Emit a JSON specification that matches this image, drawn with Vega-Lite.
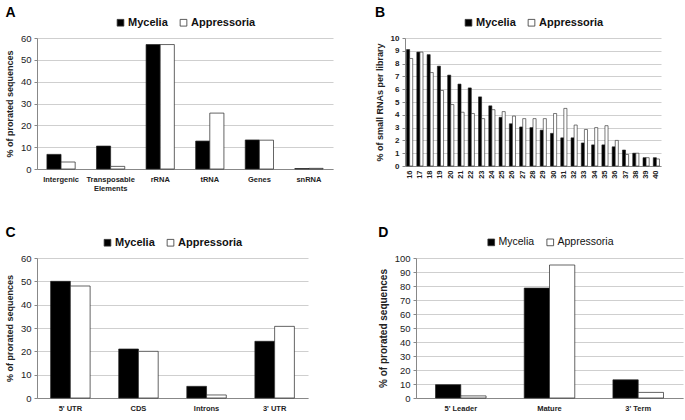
{
  "$schema": "https://vega.github.io/schema/vega-lite/v6.json",
  "background": "white",
  "padding": {"left": 5, "top": 6, "right": 5, "bottom": 2},
  "config": {
    "font": "Liberation Sans",
    "view": {"stroke": null},
    "title": {"fontSize": 14, "fontWeight": "bold", "anchor": "start", "frame": "bounds", "offset": -3, "color": "#000"},
    "axis": {"labelFont": "Liberation Sans", "titleFont": "Liberation Sans", "labelColor": "#222", "titleColor": "#222", "domainColor": "#888", "tickColor": "#888", "gridColor": "#cfcfcf"},
    "axisY": {"labelFontSize": 9.5, "titleFontSize": 9, "titleFontWeight": "bold", "domain": true, "ticks": true, "tickSize": 3, "labelPadding": 3, "titlePadding": 6},
    "axisX": {"labelFontSize": 7.5, "labelFontWeight": "bold", "ticks": false, "labelPadding": 6, "grid": false},
    "legend": {"orient": "top", "direction": "horizontal", "title": null, "symbolType": "square", "symbolSize": 45, "symbolStrokeColor": "#333", "symbolStrokeWidth": 0.8, "labelFontSize": 11, "labelFontWeight": "bold", "labelColor": "#111", "columnPadding": 10, "symbolOffset": 0, "labelOffset": 2, "padding": 0, "offset": 10, "layout": {"top": {"anchor": "middle"}}}
  },
  "datasets": {
    "a": [
      {"cat": "Intergenic", "lib": "Mycelia", "v": 6.7},
      {"cat": "Intergenic", "lib": "Appressoria", "v": 3.2},
      {"cat": "Transposable Elements", "lib": "Mycelia", "v": 10.5},
      {"cat": "Transposable Elements", "lib": "Appressoria", "v": 1.2},
      {"cat": "rRNA", "lib": "Mycelia", "v": 57},
      {"cat": "rRNA", "lib": "Appressoria", "v": 57},
      {"cat": "tRNA", "lib": "Mycelia", "v": 12.8},
      {"cat": "tRNA", "lib": "Appressoria", "v": 25.6},
      {"cat": "Genes", "lib": "Mycelia", "v": 13.3},
      {"cat": "Genes", "lib": "Appressoria", "v": 13.2},
      {"cat": "snRNA", "lib": "Mycelia", "v": 0.2},
      {"cat": "snRNA", "lib": "Appressoria", "v": 0.3}
    ],
    "b": [
      {"len": "16", "lib": "Mycelia", "v": 9.1}, {"len": "16", "lib": "Appressoria", "v": 8.4},
      {"len": "17", "lib": "Mycelia", "v": 8.9}, {"len": "17", "lib": "Appressoria", "v": 8.9},
      {"len": "18", "lib": "Mycelia", "v": 8.7}, {"len": "18", "lib": "Appressoria", "v": 7.3},
      {"len": "19", "lib": "Mycelia", "v": 7.8}, {"len": "19", "lib": "Appressoria", "v": 5.9},
      {"len": "20", "lib": "Mycelia", "v": 7.1}, {"len": "20", "lib": "Appressoria", "v": 4.8},
      {"len": "21", "lib": "Mycelia", "v": 6.4}, {"len": "21", "lib": "Appressoria", "v": 4.2},
      {"len": "22", "lib": "Mycelia", "v": 6.1}, {"len": "22", "lib": "Appressoria", "v": 4.1},
      {"len": "23", "lib": "Mycelia", "v": 5.4}, {"len": "23", "lib": "Appressoria", "v": 3.7},
      {"len": "24", "lib": "Mycelia", "v": 4.7}, {"len": "24", "lib": "Appressoria", "v": 4.4},
      {"len": "25", "lib": "Mycelia", "v": 3.8}, {"len": "25", "lib": "Appressoria", "v": 4.25},
      {"len": "26", "lib": "Mycelia", "v": 3.3}, {"len": "26", "lib": "Appressoria", "v": 3.9},
      {"len": "27", "lib": "Mycelia", "v": 3.05}, {"len": "27", "lib": "Appressoria", "v": 3.7},
      {"len": "28", "lib": "Mycelia", "v": 3.0}, {"len": "28", "lib": "Appressoria", "v": 3.7},
      {"len": "29", "lib": "Mycelia", "v": 2.8}, {"len": "29", "lib": "Appressoria", "v": 3.7},
      {"len": "30", "lib": "Mycelia", "v": 2.55}, {"len": "30", "lib": "Appressoria", "v": 4.1},
      {"len": "31", "lib": "Mycelia", "v": 2.2}, {"len": "31", "lib": "Appressoria", "v": 4.5},
      {"len": "32", "lib": "Mycelia", "v": 2.2}, {"len": "32", "lib": "Appressoria", "v": 3.2},
      {"len": "33", "lib": "Mycelia", "v": 1.8}, {"len": "33", "lib": "Appressoria", "v": 2.85},
      {"len": "34", "lib": "Mycelia", "v": 1.65}, {"len": "34", "lib": "Appressoria", "v": 3.0},
      {"len": "35", "lib": "Mycelia", "v": 1.65}, {"len": "35", "lib": "Appressoria", "v": 3.15},
      {"len": "36", "lib": "Mycelia", "v": 1.5}, {"len": "36", "lib": "Appressoria", "v": 2.0},
      {"len": "37", "lib": "Mycelia", "v": 1.25}, {"len": "37", "lib": "Appressoria", "v": 0.9},
      {"len": "38", "lib": "Mycelia", "v": 1.0}, {"len": "38", "lib": "Appressoria", "v": 1.0},
      {"len": "39", "lib": "Mycelia", "v": 0.65}, {"len": "39", "lib": "Appressoria", "v": 0.65},
      {"len": "40", "lib": "Mycelia", "v": 0.65}, {"len": "40", "lib": "Appressoria", "v": 0.55}
    ],
    "c": [
      {"cat": "5' UTR", "lib": "Mycelia", "v": 50}, {"cat": "5' UTR", "lib": "Appressoria", "v": 48},
      {"cat": "CDS", "lib": "Mycelia", "v": 21}, {"cat": "CDS", "lib": "Appressoria", "v": 20},
      {"cat": "Introns", "lib": "Mycelia", "v": 5}, {"cat": "Introns", "lib": "Appressoria", "v": 1.3},
      {"cat": "3' UTR", "lib": "Mycelia", "v": 24.3}, {"cat": "3' UTR", "lib": "Appressoria", "v": 30.7}
    ],
    "d": [
      {"cat": "5' Leader", "lib": "Mycelia", "v": 9.5}, {"cat": "5' Leader", "lib": "Appressoria", "v": 1.5},
      {"cat": "Mature", "lib": "Mycelia", "v": 78.5}, {"cat": "Mature", "lib": "Appressoria", "v": 95},
      {"cat": "3' Term", "lib": "Mycelia", "v": 13}, {"cat": "3' Term", "lib": "Appressoria", "v": 4}
    ]
  },
  "vconcat": [
    {
      "hconcat": [
        {
          "title": {"text": "A"},
          "width": 296, "height": 131,
          "data": {"name": "a"},
          "mark": {"type": "bar", "stroke": "#222", "strokeWidth": 0.7},
          "encoding": {
            "x": {"field": "cat", "type": "nominal", "sort": null, "title": null, "scale": {"paddingInner": 0.43, "paddingOuter": 0.2},
                  "axis": {"labelAngle": 0, "labelExpr": "datum.label == 'Transposable Elements' ? ['Transposable','Elements'] : datum.label"}},
            "xOffset": {"field": "lib", "sort": ["Mycelia", "Appressoria"]},
            "y": {"field": "v", "type": "quantitative", "title": "% of prorated sequences", "scale": {"domain": [0, 60]}, "axis": {"values": [0, 10, 20, 30, 40, 50, 60]}},
            "fill": {"field": "lib", "type": "nominal", "scale": {"domain": ["Mycelia", "Appressoria"], "range": ["#000000", "#ffffff"]}}
          }
        },
        {
          "title": {"text": "B"},
          "width": 256, "height": 128,
          "data": {"name": "b"},
          "mark": {"type": "bar", "stroke": "#222", "strokeWidth": 0.6},
          "encoding": {
            "x": {"field": "len", "type": "ordinal", "title": null, "scale": {"paddingInner": 0.4, "paddingOuter": 0.15},
                  "axis": {"labelAngle": -90, "labelFontSize": 7.5, "labelPadding": 4}},
            "xOffset": {"field": "lib", "sort": ["Mycelia", "Appressoria"]},
            "y": {"field": "v", "type": "quantitative", "title": "% of small RNAs per library", "scale": {"domain": [0, 10]}, "axis": {"values": [0,1,2,3,4,5,6,7,8,9,10], "labelFontSize": 8, "labelFontWeight": "bold"}},
            "fill": {"field": "lib", "type": "nominal", "scale": {"domain": ["Mycelia", "Appressoria"], "range": ["#000000", "#ffffff"]}}
          }
        }
      ],
      "spacing": 42,
      "resolve": {"scale": {"x": "independent", "y": "independent", "xOffset": "independent", "fill": "independent"}, "legend": {"fill": "independent"}, "axis": {"x": "independent", "y": "independent"}}
    },
    {
      "hconcat": [
        {
          "title": {"text": "C"},
          "width": 271, "height": 140,
          "data": {"name": "c"},
          "mark": {"type": "bar", "stroke": "#222", "strokeWidth": 0.7},
          "encoding": {
            "x": {"field": "cat", "type": "nominal", "sort": null, "title": null, "scale": {"paddingInner": 0.42, "paddingOuter": 0.2},
                  "axis": {"labelAngle": 0}},
            "xOffset": {"field": "lib", "sort": ["Mycelia", "Appressoria"]},
            "y": {"field": "v", "type": "quantitative", "title": "% of prorated sequences", "scale": {"domain": [0, 60]}, "axis": {"values": [0, 10, 20, 30, 40, 50, 60]}},
            "fill": {"field": "lib", "type": "nominal", "scale": {"domain": ["Mycelia", "Appressoria"], "range": ["#000000", "#ffffff"]}}
          }
        },
        {
          "title": {"text": "D"},
          "width": 267, "height": 140,
          "data": {"name": "d"},
          "mark": {"type": "bar", "stroke": "#222", "strokeWidth": 0.7},
          "encoding": {
            "x": {"field": "cat", "type": "nominal", "sort": null, "title": null, "scale": {"paddingInner": 0.43, "paddingOuter": 0.22},
                  "axis": {"labelAngle": 0}},
            "xOffset": {"field": "lib", "sort": ["Mycelia", "Appressoria"]},
            "y": {"field": "v", "type": "quantitative", "title": "% of prorated sequences", "scale": {"domain": [0, 100]}, "axis": {"values": [0,10,20,30,40,50,60,70,80,90,100], "titleFontSize": 10}},
            "fill": {"field": "lib", "type": "nominal", "scale": {"domain": ["Mycelia", "Appressoria"], "range": ["#000000", "#ffffff"]},
                     "legend": {"labelFontWeight": "normal", "labelFontSize": 10.5}}
          }
        }
      ],
      "spacing": 70,
      "resolve": {"scale": {"x": "independent", "y": "independent", "xOffset": "independent", "fill": "independent"}, "legend": {"fill": "independent"}, "axis": {"x": "independent", "y": "independent"}}
    }
  ],
  "spacing": 34,
  "resolve": {"scale": {"x": "independent", "y": "independent", "xOffset": "independent", "fill": "independent"}, "legend": {"fill": "independent"}, "axis": {"x": "independent", "y": "independent"}}
}
